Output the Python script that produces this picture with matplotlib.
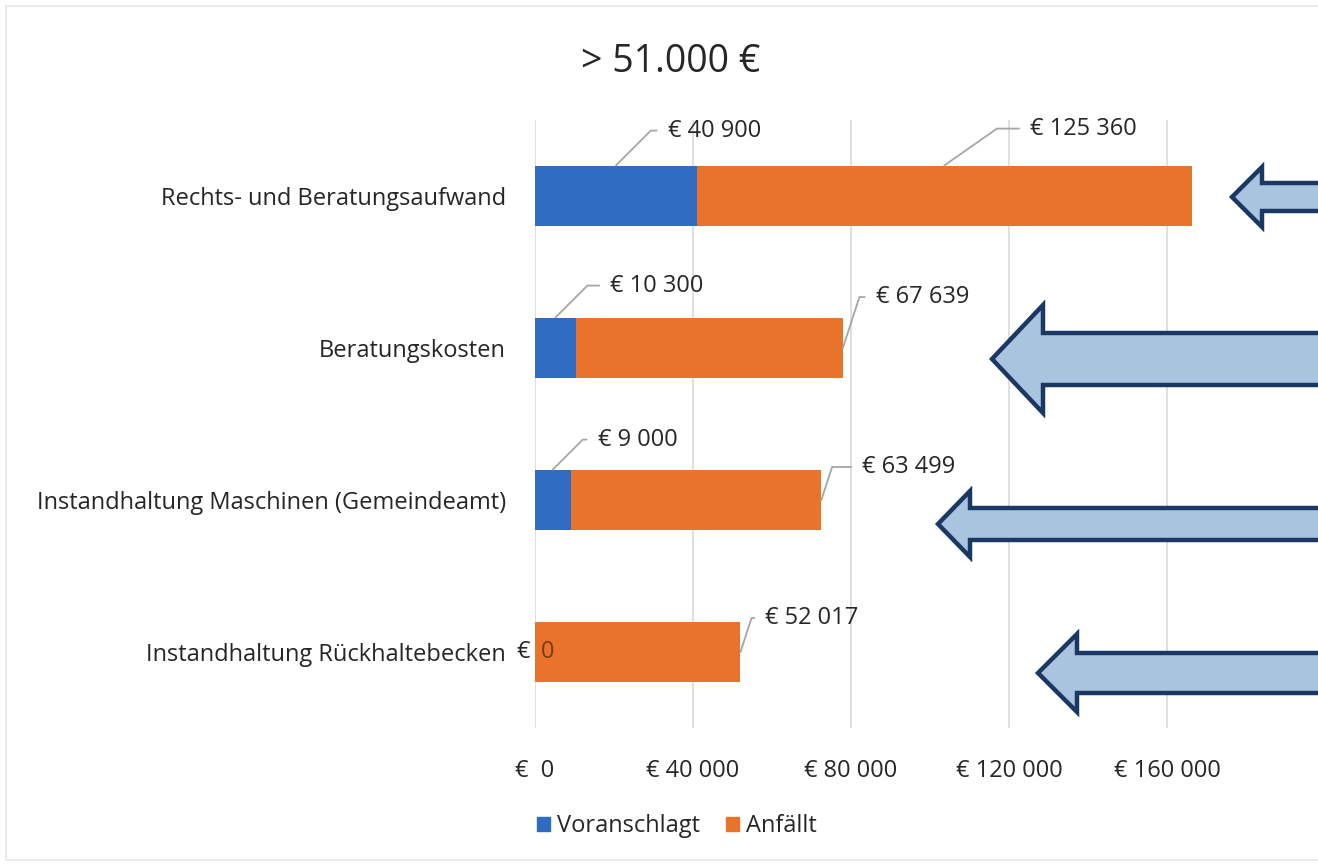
import matplotlib
matplotlib.use('Agg')
import matplotlib.pyplot as plt
from matplotlib.patches import Polygon, Patch, Rectangle
from matplotlib.transforms import ScaledTranslation

plt.rcParams['font.family'] = ['Open Sans', 'DejaVu Sans']

# data
categories = ['Rechts- und Beratungsaufwand', 'Beratungskosten',
              'Instandhaltung Maschinen (Gemeindeamt)', 'Instandhaltung Rückhaltebecken']
voranschlagt = [40900, 10300, 9000, 0]
anfaellt = [125360, 67639, 63499, 52017]
x_ticks = [0, 40000, 80000, 120000, 160000]
x_tick_labels = ['€  0', '€ 40 000', '€ 80 000', '€ 120 000', '€ 160 000']
title = '> 51.000 €'

# label offsets in pixels (layout only)
blue_offsets = [(52, 35), (55, 32), (45, 30), (0, 0)]
orange_offsets = [(86, 37), (33, 51), (41, 33), (25, 34)]

BLUE = '#2f6bc1'
ORANGE = '#e8742b'
GRID = '#dadada'
TXT = '#262626'
LEADER = '#a6a6a6'
FS = 17

W, H = 1318, 867


def fmt(v):
    return '€ ' + f'{v:,}'.replace(',', ' ')


def fx(px):
    return px / W


def fy(py):
    return 1 - py / H


fig = plt.figure(figsize=(W / 100, H / 100), dpi=100)
ax = fig.add_axes([fx(535), fy(728), 790 / W, 608 / H])

ypos = list(range(len(categories)))
ax.barh(ypos, voranschlagt, height=0.4, color=BLUE, zorder=3)
ax.barh(ypos, anfaellt, left=voranschlagt, height=0.4, color=ORANGE, zorder=3)

ax.set_xlim(0, 200000)
ax.set_ylim(3.5, -0.5)
ax.set_xticks(x_ticks)
ax.set_xticklabels(x_tick_labels)
ax.set_yticks(ypos)
ax.set_yticklabels(categories)
ax.tick_params(axis='y', length=0, pad=21, labelsize=FS, labelcolor=TXT)
ax.tick_params(axis='x', length=0, pad=22, labelsize=FS, labelcolor=TXT)
ax.grid(axis='x', color=GRID, lw=1.2, zorder=0)
for s in ax.spines.values():
    s.set_visible(False)


def leader(angle):
    return dict(arrowstyle='-', color=LEADER, lw=1.3, shrinkA=6, shrinkB=0, relpos=(0, 0.5),
                connectionstyle=f'angle,angleA=0,angleB={angle},rad=0')


lab_kw = dict(textcoords='offset pixels', fontsize=FS, color=TXT, ha='left', va='center', zorder=5)
for i, (v, a) in enumerate(zip(voranschlagt, anfaellt)):
    if v > 0:
        ax.annotate(fmt(v), xy=(v / 2, i - 0.2), xytext=blue_offsets[i], arrowprops=leader(45), **lab_kw)
    else:
        ax.text(0, i, '€', fontsize=FS, color=TXT, ha='right', va='center', zorder=5,
                transform=ax.transData + ScaledTranslation(-5 / 100, 0, fig.dpi_scale_trans))
        ax.text(0, i, '0', fontsize=FS, color='#7a3a10', ha='left', va='center', zorder=5,
                transform=ax.transData + ScaledTranslation(6 / 100, 0, fig.dpi_scale_trans))
    if i == 0:
        ax.annotate(fmt(a), xy=(v + a / 2, i - 0.2), xytext=orange_offsets[i], arrowprops=leader(35), **lab_kw)
    else:
        ax.annotate(fmt(a), xy=(v + a, i), xytext=orange_offsets[i], arrowprops=leader(72), **lab_kw)

fig.text(fx(671), fy(62), title, fontsize=27, color=TXT, ha='center', va='center')

handles = [Patch(color=BLUE, label='Voranschlagt'), Patch(color=ORANGE, label='Anfällt')]
fig.legend(handles=handles, loc='center', bbox_to_anchor=(fx(677), fy(826)), ncol=2, frameon=False,
           fontsize=FS, handlelength=0.55, handleheight=0.55, handletextpad=0.3, columnspacing=1.1,
           labelcolor=TXT)

# left-pointing block arrows on the right edge (tip x, center y, head base x, head half, shaft half)
arrows = [(1232, 197, 1262, 30, 14),
          (992, 359, 1043, 54, 26),
          (938, 524, 970, 33, 16),
          (1038, 673, 1077, 39, 20)]
for tx, cy, bx, hh, sh in arrows:
    pts = [(tx, cy), (bx, cy - hh), (bx, cy - sh), (1340, cy - sh),
           (1340, cy + sh), (bx, cy + sh), (bx, cy + hh)]
    poly = Polygon([(fx(px), fy(py)) for px, py in pts], closed=True, transform=fig.transFigure,
                   facecolor='#a9c4df', edgecolor='#1b3763', lw=3.2, joinstyle='miter', zorder=10)
    fig.patches.append(poly)

# faint frame of the original slide
fig.patches.append(Rectangle((fx(6), fy(860)), fx(1330), 854 / H, transform=fig.transFigure,
                             fill=False, edgecolor='#ececec', lw=1.5, zorder=0))

fig.savefig('out.png', dpi=100)
